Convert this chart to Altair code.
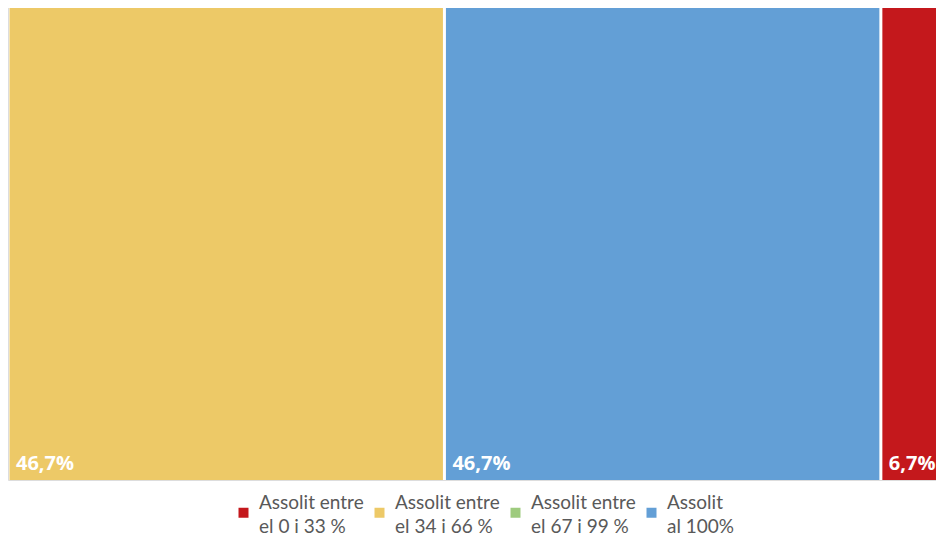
import altair as alt
import pandas as pd

# legend categories (legend order) and colours
categories = [
    "Assolit entre|el 0 i 33 %",
    "Assolit entre|el 34 i 66 %",
    "Assolit entre|el 67 i 99 %",
    "Assolit|al 100%",
]
colors = ["#C4181C", "#EDC967", "#9ECB7E", "#639FD6"]

# segments, left to right
segment_categories = [
    "Assolit entre|el 34 i 66 %",
    "Assolit|al 100%",
    "Assolit entre|el 0 i 33 %",
]
segment_values = [46.7, 46.7, 6.7]
segment_labels = ["46,7%", "46,7%", "6,7%"]

starts, ends = [], []
acc = 0.0
for v in segment_values:
    starts.append(acc)
    acc += v
    ends.append(acc)

df = pd.DataFrame({
    "cat": segment_categories,
    "start": starts,
    "end": ends,
    "label": segment_labels,
})

xscale = alt.Scale(domain=[0, 99.3], nice=False, zero=False)
yscale = alt.Scale(domain=[0, 1], nice=False)

bars = alt.Chart(df).mark_bar(xOffset=1.5, x2Offset=-1.5, clip=True).encode(
    x=alt.X("start:Q", scale=xscale, axis=None),
    x2="end:Q",
    y=alt.YDatum(0, scale=yscale, axis=None),
    y2=alt.datum(1),
    color=alt.Color(
        "cat:N",
        scale=alt.Scale(domain=categories, range=colors),
        legend=alt.Legend(
            title=None,
            orient="none",
            legendX=226,
            legendY=497,
            direction="horizontal",
            columns=4,
            symbolType="square",
            symbolSize=100,
            symbolStrokeWidth=0,
            labelExpr="split(datum.label, '|')",
            labelFont="Lato",
            labelFontSize=19,
            labelColor="#595959",
            labelOffset=6,
            labelBaseline="bottom",
            labelLimit=0,
            columnPadding=6,
            padding=0,
        ),
    ),
)

texts = alt.Chart(df).mark_text(
    align="left", baseline="alphabetic", dx=8, dy=-10,
    color="white", fontWeight="bold", fontSize=20, font="Open Sans", clip=True,
).encode(
    x=alt.X("start:Q", scale=xscale, axis=None),
    y=alt.YDatum(0, scale=yscale, axis=None),
    text="label:N",
)

chart = (bars + texts).properties(
    width=928, height=474,
    autosize=alt.AutoSizeParams(type="none"),
    padding={"left": 0, "top": -2, "right": 0, "bottom": 59},
).configure_view(stroke=None).configure(
    style={"guide-label": {"lineHeight": 24}}
)

chart.save("out.html", embed_options={"renderer": "svg", "actions": False})
